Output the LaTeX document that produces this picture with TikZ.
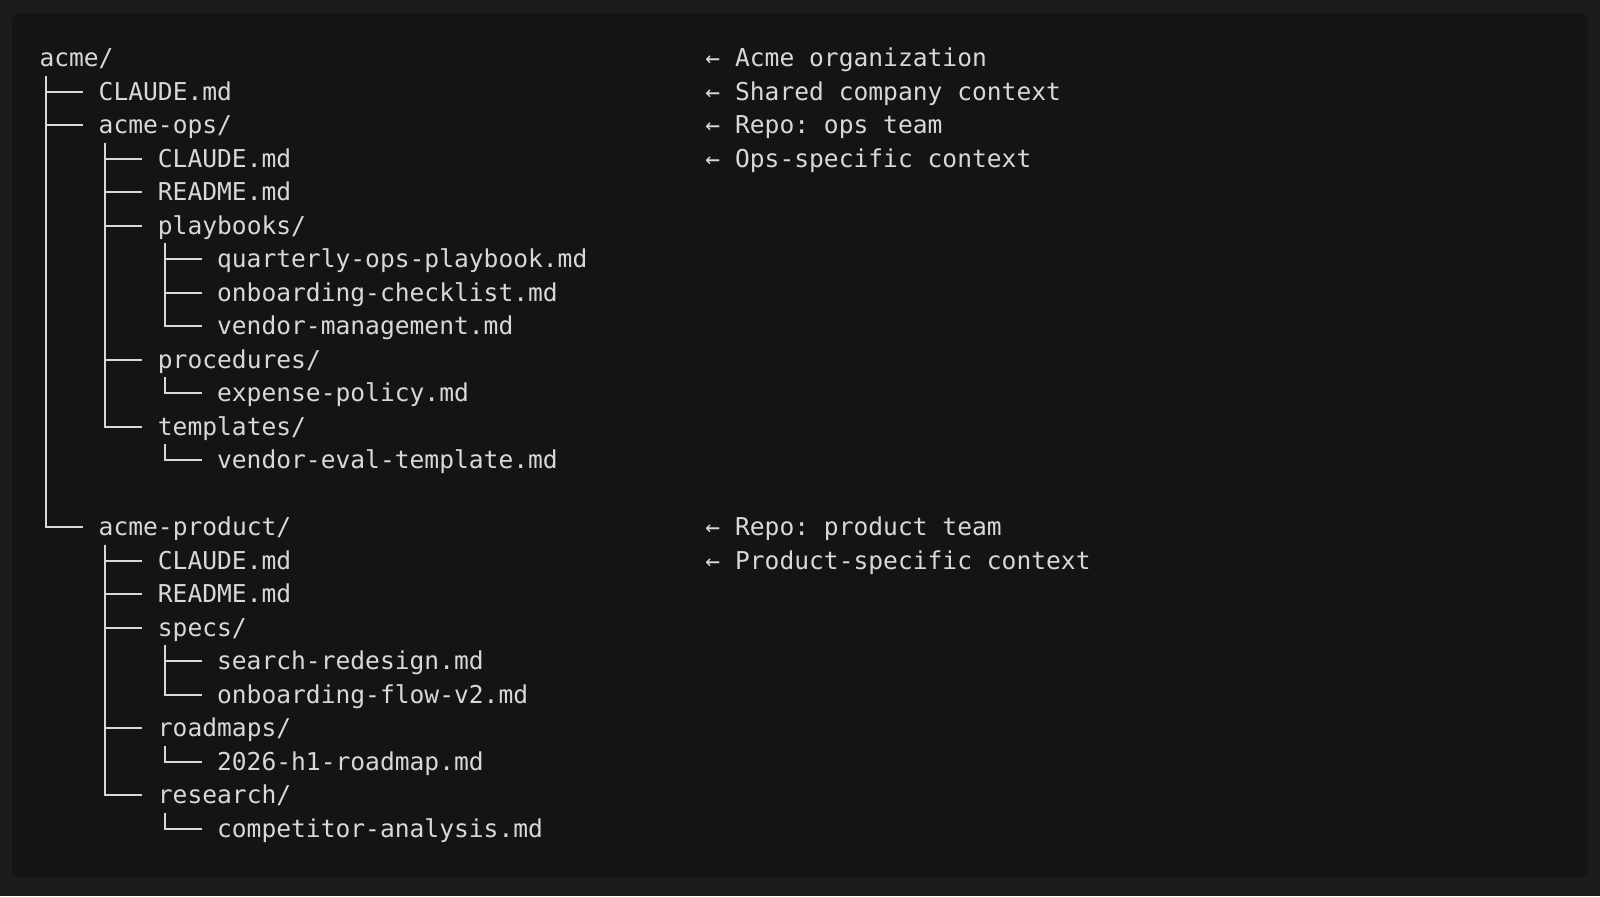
\documentclass[tikz,border=0pt]{standalone}
\usepackage{fontspec}
\setmonofont{DejaVu Sans Mono}
\usepackage{tikz}
\definecolor{outerbg}{HTML}{1C1C1C}
\definecolor{termbg}{HTML}{141414}
\definecolor{termfg}{HTML}{D8D8D8}
\def\charw{0.148cm}

\begin{document}
\begin{tikzpicture}[
                x=0.148cm, y=-0.335cm,
                entry/.style={anchor=base west, inner xsep=\charw, inner ysep=0pt, xshift=-\charw,
                    text height=0.25cm, text depth=0.085cm, text=termfg,
                    font=\ttfamily\fontsize{7pt}{9pt}\selectfont},
                note/.style={entry},
                branch/.style={draw=termfg, line width=0.55pt}
            ]

            \useasboundingbox[fill=outerbg] (-2.622,-1.985) rectangle (105.49,24.761);
            \fill[termbg, rounded corners=2pt] (-1.811,-1.597) rectangle (104.68,24.194);

            \node[entry] (acme) at (0,0) {acme/};
            \node[entry] (claude) at (4,1) {CLAUDE.md};
            \node[entry] (ops) at (4,2) {acme-ops/};
            \node[entry] (opsclaude) at (8,3) {CLAUDE.md};
            \node[entry] (opsreadme) at (8,4) {README.md};
            \node[entry] (playbooks) at (8,5) {playbooks/};
            \node[entry] (quarterly) at (12,6) {quarterly-ops-playbook.md};
            \node[entry] (checklist) at (12,7) {onboarding-checklist.md};
            \node[entry] (vendor) at (12,8) {vendor-management.md};
            \node[entry] (procedures) at (8,9) {procedures/};
            \node[entry] (expense) at (12,10) {expense-policy.md};
            \node[entry] (templates) at (8,11) {templates/};
            \node[entry] (vendoreval) at (12,12) {vendor-eval-template.md};

            \node[entry] (product) at (4,14) {acme-product/};
            \node[entry] (prodclaude) at (8,15) {CLAUDE.md};
            \node[entry] (prodreadme) at (8,16) {README.md};
            \node[entry] (specs) at (8,17) {specs/};
            \node[entry] (search) at (12,18) {search-redesign.md};
            \node[entry] (flow) at (12,19) {onboarding-flow-v2.md};
            \node[entry] (roadmaps) at (8,20) {roadmaps/};
            \node[entry] (roadmap) at (12,21) {2026-h1-roadmap.md};
            \node[entry] (research) at (8,22) {research/};
            \node[entry] (competitor) at (12,23) {competitor-analysis.md};

            \node[note] (noteacme) at (45,0) {← Acme organization};
            \node[note] (noteclaude) at (45,1) {← Shared company context};
            \node[note] (noteops) at (45,2) {← Repo: ops team};
            \node[note] (noteopsclaude) at (45,3) {← Ops-specific context};
            \node[note] (noteproduct) at (45,14) {← Repo: product team};
            \node[note] (noteprodclaude) at (45,15) {← Product-specific context};

            \draw[branch] ([shift={(1.5,0)}]acme.south west) |- (claude.west);
            \draw[branch] ([shift={(1.5,0)}]acme.south west) |- (ops.west);
            \draw[branch] ([shift={(1.5,0)}]acme.south west) |- (product.west);

            \draw[branch] ([shift={(1.5,0)}]ops.south west) |- (opsclaude.west);
            \draw[branch] ([shift={(1.5,0)}]ops.south west) |- (opsreadme.west);
            \draw[branch] ([shift={(1.5,0)}]ops.south west) |- (playbooks.west);
            \draw[branch] ([shift={(1.5,0)}]ops.south west) |- (procedures.west);
            \draw[branch] ([shift={(1.5,0)}]ops.south west) |- (templates.west);
            \draw[branch] ([shift={(1.5,0)}]playbooks.south west) |- (quarterly.west);
            \draw[branch] ([shift={(1.5,0)}]playbooks.south west) |- (checklist.west);
            \draw[branch] ([shift={(1.5,0)}]playbooks.south west) |- (vendor.west);
            \draw[branch] ([shift={(1.5,0)}]procedures.south west) |- (expense.west);
            \draw[branch] ([shift={(1.5,0)}]templates.south west) |- (vendoreval.west);

            \draw[branch] ([shift={(1.5,0)}]product.south west) |- (prodclaude.west);
            \draw[branch] ([shift={(1.5,0)}]product.south west) |- (prodreadme.west);
            \draw[branch] ([shift={(1.5,0)}]product.south west) |- (specs.west);
            \draw[branch] ([shift={(1.5,0)}]product.south west) |- (roadmaps.west);
            \draw[branch] ([shift={(1.5,0)}]product.south west) |- (research.west);
            \draw[branch] ([shift={(1.5,0)}]specs.south west) |- (search.west);
            \draw[branch] ([shift={(1.5,0)}]specs.south west) |- (flow.west);
            \draw[branch] ([shift={(1.5,0)}]roadmaps.south west) |- (roadmap.west);
            \draw[branch] ([shift={(1.5,0)}]research.south west) |- (competitor.west);

        \end{tikzpicture}
\end{document}
